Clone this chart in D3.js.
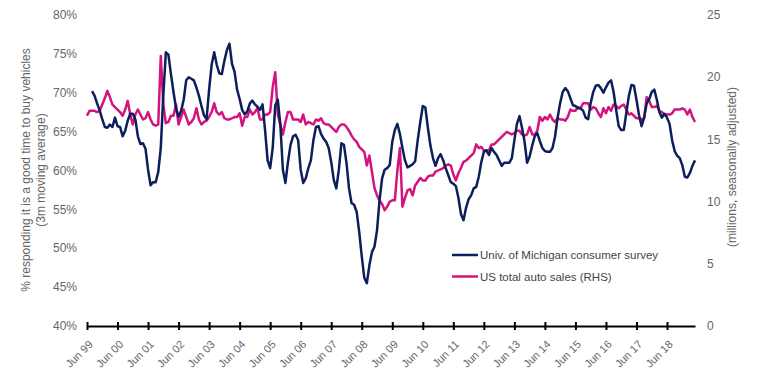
<!DOCTYPE html>
<html>
<head>
<meta charset="utf-8">
<script src="https://cdn.jsdelivr.net/npm/d3@7"></script>
<style>
  html, body { margin: 0; padding: 0; background: #fff; }
  svg { display: block; font-family: "Liberation Sans", Arial, sans-serif; }
</style>
</head>
<body>
<svg id="chart" width="757" height="379"></svg>
<script>
// ---- Data ----
const tickLabels = ["Jun 99","Jun 00","Jun 01","Jun 02","Jun 03","Jun 04","Jun 05","Jun 06","Jun 07","Jun 08","Jun 09","Jun 10","Jun 11","Jun 12","Jun 13","Jun 14","Jun 15","Jun 16","Jun 17","Jun 18"];
const leftTicks = [40,45,50,55,60,65,70,75,80];
const rightTicks = [0,5,10,15,20,25];
const seriesNames = ["Univ. of Michigan consumer survey", "US total auto sales (RHS)"];

// Univ. of Michigan: % responding good time to buy vehicles (3m MA), monthly from Jun 99 (starts Aug 99)
const michigan = [null,null,
70.2,69.6,68.6,67.7,66.6,65.6,65.5,65.9,65.6,66.8,65.7,65.6,64.4,65.1,66.4,67.3,67.3,66.6,
64.4,63.4,63.5,62.8,60.1,58.1,58.5,58.5,59.8,62.9,69.7,75.2,74.9,72.4,70.1,68.0,66.9,67.7,
69.1,71.6,72.0,71.8,71.6,70.7,69.6,68.3,67.1,66.6,70.4,73.6,75.2,73.6,72.5,72.4,74.1,75.5,
76.3,73.7,72.7,70.4,69.2,67.8,67.2,67.6,68.6,69.0,68.5,68.2,67.8,68.5,65.2,61.3,60.3,62.9,
68.4,69.1,65.9,60.1,58.4,61.1,63.3,64.4,64.6,63.9,60.1,58.4,59.0,60.3,61.3,63.9,65.6,65.7,
64.7,64.1,63.7,62.9,61.1,58.8,57.7,60.1,63.5,63.3,61.0,57.7,55.8,55.6,54.7,52.1,49.0,46.2,
45.5,47.8,49.5,50.2,52.3,56.2,59.0,60.1,60.3,60.7,63.7,65.2,66.0,64.7,62.9,61.3,60.4,60.6,
60.8,61.2,63.9,66.2,68.3,68.1,65.5,63.2,61.6,60.6,61.6,62.1,61.3,60.3,59.4,58.5,58.3,58.0,
56.5,54.4,53.6,55.2,56.3,56.8,57.7,57.9,59.2,61.1,62.4,62.6,62.0,62.9,62.4,62.0,61.3,60.6,
61.0,61.0,61.0,61.6,63.9,66.0,67.0,65.5,63.7,61.0,61.8,63.2,64.4,64.8,63.8,62.9,62.5,62.4,
62.4,62.9,64.4,66.8,68.7,70.1,70.6,70.2,69.3,68.4,68.3,68.0,68.0,67.7,66.8,66.6,68.7,70.1,
70.9,71.0,70.6,70.0,70.7,71.3,71.6,70.1,67.8,65.7,65.2,65.2,67.4,69.6,71.0,70.9,69.1,67.1,
65.7,66.8,68.6,69.2,70.1,70.4,69.1,67.5,66.8,67.3,66.8,66.0,63.9,62.5,61.9,61.6,60.7,59.2,
59.1,59.7,60.6,61.3];

// US total auto sales, millions SAAR (right axis), monthly from Jun 99
const autoSales = [
16.9,17.3,17.3,17.3,17.2,17.3,17.8,18.3,18.9,18.4,17.8,17.6,17.4,17.2,16.9,17.4,18.1,17.0,
16.2,17.0,17.4,17.0,16.6,16.7,17.2,16.6,16.2,16.1,16.2,21.7,17.8,16.3,16.4,16.9,16.9,17.8,
16.2,16.8,17.4,16.8,16.2,16.4,16.7,17.5,16.6,16.2,16.4,16.5,16.8,17.2,17.9,17.2,17.0,17.2,
16.7,16.6,16.6,16.7,16.8,16.8,17.1,16.1,16.8,16.8,17.4,17.0,17.2,17.5,16.6,16.6,17.0,17.0,
17.2,19.2,20.4,17.0,16.2,15.4,16.4,17.2,17.2,16.6,16.6,16.6,16.4,17.0,16.2,16.4,16.3,16.2,
16.6,16.5,16.7,16.3,16.2,16.2,16.0,15.8,15.6,16.0,16.2,16.2,16.0,15.7,15.3,15.0,14.8,14.4,
14.2,14.0,12.9,13.7,12.4,11.1,10.5,10.1,9.8,9.3,9.6,10.0,10.1,10.1,12.5,14.3,9.6,10.3,
10.9,11.0,10.5,11.3,11.6,11.9,11.7,11.7,12.0,12.1,12.1,12.4,12.5,12.6,12.7,12.9,13.0,12.9,
12.2,11.7,12.3,12.7,13.2,13.3,13.5,13.7,13.9,14.6,14.3,14.4,14.1,14.1,14.1,14.6,14.6,14.8,
15.0,15.2,15.4,15.6,15.5,15.4,15.5,15.7,15.7,15.4,15.3,15.4,16.0,15.4,15.4,15.7,16.8,16.5,
16.8,16.6,17.0,16.6,16.4,16.7,16.6,16.6,16.5,16.8,17.4,17.3,17.3,17.6,17.5,17.9,17.9,17.9,
17.4,17.6,17.5,17.1,16.8,17.5,17.1,17.6,17.3,17.8,17.7,17.5,17.7,17.8,17.4,17.0,17.1,16.9,
16.7,16.7,16.6,16.7,18.4,18.1,17.6,17.6,17.7,17.3,17.2,17.0,17.0,17.0,17.1,17.4,17.4,17.4,
17.5,17.4,17.0,17.4,16.8,16.4];

const colors = ["#0c1f5b", "#d4137f"];

// ---- Chart ----
const svg = d3.select("#chart");
const plot = {left: 87, right: 695, top: 15, bottom: 326};
const n = autoSales.length;

const x = d3.scaleLinear().domain([0, n - 1]).range([plot.left, plot.right]);
const yL = d3.scaleLinear().domain([40, 80]).range([plot.bottom, plot.top]);
const yR = d3.scaleLinear().domain([0, 25]).range([plot.bottom, plot.top]);

const textColor = "#666";

// left axis labels
svg.append("g").selectAll("text").data(leftTicks).join("text")
  .attr("x", 77).attr("y", d => yL(d)).attr("dy", "0.35em")
  .attr("text-anchor", "end").attr("font-size", 12).attr("fill", textColor)
  .text(d => d + "%");

// right axis labels
svg.append("g").selectAll("text").data(rightTicks).join("text")
  .attr("x", 707).attr("y", d => yR(d)).attr("dy", "0.35em")
  .attr("text-anchor", "start").attr("font-size", 12).attr("fill", textColor)
  .text(d => d);

// axis titles
const lt = svg.append("text").attr("transform", `translate(30,170) rotate(-90)`)
  .attr("text-anchor", "middle").attr("font-size", 12).attr("fill", textColor);
lt.append("tspan").attr("x", 0).attr("dy", 0).text("% responding it is a good time to buy vehicles");
lt.append("tspan").attr("x", 0).attr("dy", "1.25em").text("(3m moving average)");

svg.append("text").attr("transform", `translate(736,167) rotate(-90)`)
  .attr("text-anchor", "middle").attr("font-size", 12).attr("fill", textColor)
  .text("(millions, seasonally adjusted)");

// x axis
const tickIdx = tickLabels.map((d, i) => i * 12);
const xAxis = d3.axisBottom(x).tickValues(tickIdx)
  .tickFormat((d, i) => tickLabels[i]).tickSize(4).tickSizeOuter(0);
const gx = svg.append("g").attr("transform", `translate(0,${plot.bottom})`).call(xAxis);
gx.select(".domain").attr("stroke", "#000").attr("stroke-width", 2);
gx.selectAll(".tick line").attr("y1", -4).attr("y2", 4).attr("stroke", "#000").attr("stroke-width", 2);
gx.selectAll(".tick text")
  .attr("font-size", 11).attr("fill", textColor).attr("font-family", "Liberation Sans, Arial, sans-serif")
  .attr("text-anchor", "end").attr("dy", 0).attr("y", 0)
  .attr("transform", "translate(6,19) rotate(-45)");

// lines
const lineL = d3.line().defined(d => d != null).x((d, i) => x(i)).y(d => yL(d));
const lineR = d3.line().defined(d => d != null).x((d, i) => x(i)).y(d => yR(d));

svg.append("path").datum(autoSales).attr("d", lineR)
  .attr("fill", "none").attr("stroke", colors[1]).attr("stroke-width", 2.5).attr("stroke-linejoin", "round");
svg.append("path").datum(michigan).attr("d", lineL)
  .attr("fill", "none").attr("stroke", colors[0]).attr("stroke-width", 2.5).attr("stroke-linejoin", "round");

// legend
const lg = svg.append("g").attr("transform", "translate(452,255)");
seriesNames.forEach((s, i) => {
  const g = lg.append("g").attr("transform", `translate(0,${i * 21.5})`);
  g.append("line").attr("x1", 0).attr("x2", 26).attr("y1", 0).attr("y2", 0)
    .attr("stroke", colors[i]).attr("stroke-width", 2.5);
  g.append("text").attr("x", 28).attr("y", 0).attr("dy", "0.35em")
    .attr("font-size", 11.5).attr("fill", "#444").text(s);
});
</script>
</body>
</html>
